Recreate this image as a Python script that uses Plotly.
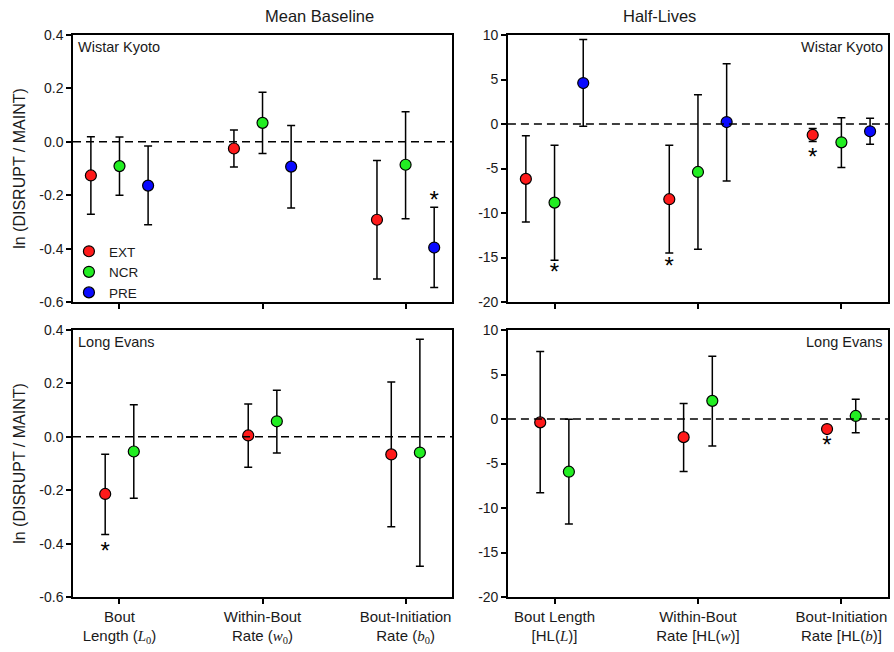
import plotly.graph_objects as go
from plotly.subplots import make_subplots

# ---------------- data ----------------
categories = [1, 2, 3]
series_names = ["EXT", "NCR", "PRE"]
series_colors = ["#ff1a1a", "#22ee22", "#0a0aff"]

# Top-left: Mean Baseline, Wistar Kyoto
wk_base_ext = [-0.126, -0.025, -0.292]
wk_base_ext_hi = [0.019, 0.044, -0.070]
wk_base_ext_lo = [-0.271, -0.094, -0.514]
wk_base_ncr = [-0.091, 0.071, -0.086]
wk_base_ncr_hi = [0.018, 0.186, 0.113]
wk_base_ncr_lo = [-0.200, -0.044, -0.288]
wk_base_pre = [-0.164, -0.093, -0.396]
wk_base_pre_hi = [-0.016, 0.061, -0.245]
wk_base_pre_lo = [-0.311, -0.248, -0.546]

# Top-right: Half-Lives, Wistar Kyoto
wk_hl_ext = [-6.17, -8.45, -1.23]
wk_hl_ext_hi = [-1.31, -2.39, -0.50]
wk_hl_ext_lo = [-11.0, -14.5, -1.98]
wk_hl_ncr = [-8.83, -5.39, -2.06]
wk_hl_ncr_hi = [-2.39, 3.29, 0.71]
wk_hl_ncr_lo = [-15.3, -14.07, -4.90]
wk_hl_pre = [4.60, 0.22, -0.82]
wk_hl_pre_hi = [9.50, 6.77, 0.64]
wk_hl_pre_lo = [-0.26, -6.40, -2.28]

# Bottom-left: Mean Baseline, Long Evans
le_base_ext = [-0.214, 0.005, -0.066]
le_base_ext_hi = [-0.065, 0.123, 0.205]
le_base_ext_lo = [-0.366, -0.114, -0.337]
le_base_ncr = [-0.055, 0.058, -0.059]
le_base_ncr_hi = [0.120, 0.174, 0.365]
le_base_ncr_lo = [-0.230, -0.061, -0.485]

# Bottom-right: Half-Lives, Long Evans
le_hl_ext = [-0.38, -2.04, -1.13]
le_hl_ext_hi = [7.58, 1.74, -1.13]
le_hl_ext_lo = [-8.30, -5.89, -1.13]
le_hl_ncr = [-5.92, 2.04, 0.34]
le_hl_ncr_hi = [-0.04, 7.06, 2.23]
le_hl_ncr_lo = [-11.80, -3.02, -1.55]

# significance markers: (x, y) in data units per panel
wk_base_sig_x = [3.2]
wk_base_sig_y = [-0.225]
wk_hl_sig_x = [1.0, 1.8, 2.8]
wk_hl_sig_y = [-16.9, -16.2, -3.9]
le_base_sig_x = [0.9]
le_base_sig_y = [-0.435]
le_hl_sig_x = [2.9]
le_hl_sig_y = [-3.2]

base_yticks = [-0.6, -0.4, -0.2, 0.0, 0.2, 0.4]
base_yticklabels = ["-0.6", "-0.4", "-0.2", "0.0", "0.2", "0.4"]
hl_yticks = [-20, -15, -10, -5, 0, 5, 10]
hl_yticklabels = ["-20", "-15", "-10", "-5", "0", "5", "10"]

base_ticklabels = [
    "Bout<br>Length (<span style='font-family:Liberation Serif'><i>L</i><sub>0</sub></span>)",
    "Within-Bout<br>Rate (<span style='font-family:Liberation Serif'><i>w</i><sub>0</sub></span>)",
    "Bout-Initiation<br>Rate (<span style='font-family:Liberation Serif'><i>b</i><sub>0</sub></span>)",
]
hl_ticklabels = [
    "Bout Length<br>[HL(<span style='font-family:Liberation Serif'><i>L</i></span>)]",
    "Within-Bout<br>Rate [HL(<span style='font-family:Liberation Serif'><i>w</i></span>)]",
    "Bout-Initiation<br>Rate [HL(<span style='font-family:Liberation Serif'><i>b</i></span>)]",
]

FONT = "Arial, Liberation Sans, sans-serif"
TXT = "#1a1a1a"

fig = make_subplots(rows=2, cols=2, horizontal_spacing=0.07, vertical_spacing=0.05)

W, H = 894, 652
ml, mr, mt, mb = 73, 4, 35, 55
pw = W - ml - mr
ph = H - mt - mb
xd_left = [0, (453 - ml) / pw]
xd_right = [(509 - ml) / pw, 1.0]
yd_top = [(H - mb - 302) / ph, 1.0]
yd_bot = [0, (H - mb - 330) / ph]


def add_series(row, col, offsets, means, his, los, show_legend):
    for i, (off, m, hi, lo) in enumerate(zip(offsets, means, his, los)):
        x = [c + off for c in categories]
        up = [h - v for h, v in zip(hi, m)]
        dn = [v - l for v, l in zip(m, lo)]
        fig.add_trace(
            go.Scatter(
                x=x, y=m, mode="markers", name=series_names[i],
                legendgroup=series_names[i], showlegend=show_legend,
                marker=dict(size=11, color=series_colors[i],
                            line=dict(color="black", width=1.2)),
                error_y=dict(type="data", symmetric=False, array=up,
                             arrayminus=dn, color="black", thickness=1.5,
                             width=4),
            ),
            row=row, col=col,
        )


add_series(1, 1, [-0.2, 0.0, 0.2],
           [wk_base_ext, wk_base_ncr, wk_base_pre],
           [wk_base_ext_hi, wk_base_ncr_hi, wk_base_pre_hi],
           [wk_base_ext_lo, wk_base_ncr_lo, wk_base_pre_lo], True)
add_series(1, 2, [-0.2, 0.0, 0.2],
           [wk_hl_ext, wk_hl_ncr, wk_hl_pre],
           [wk_hl_ext_hi, wk_hl_ncr_hi, wk_hl_pre_hi],
           [wk_hl_ext_lo, wk_hl_ncr_lo, wk_hl_pre_lo], False)
add_series(2, 1, [-0.1, 0.1],
           [le_base_ext, le_base_ncr],
           [le_base_ext_hi, le_base_ncr_hi],
           [le_base_ext_lo, le_base_ncr_lo], False)
add_series(2, 2, [-0.1, 0.1],
           [le_hl_ext, le_hl_ncr],
           [le_hl_ext_hi, le_hl_ncr_hi],
           [le_hl_ext_lo, le_hl_ncr_lo], False)

for (r, c, sx, sy) in [(1, 1, wk_base_sig_x, wk_base_sig_y),
                       (1, 2, wk_hl_sig_x, wk_hl_sig_y),
                       (2, 1, le_base_sig_x, le_base_sig_y),
                       (2, 2, le_hl_sig_x, le_hl_sig_y)]:
    fig.add_trace(go.Scatter(x=sx, y=sy, mode="text", text=["*"] * len(sx),
                             textfont=dict(size=24, color="black", family=FONT),
                             showlegend=False, hoverinfo="skip"),
                  row=r, col=c)

# zero reference lines
for r in (1, 2):
    for c in (1, 2):
        fig.add_hline(y=0, line=dict(color="black", width=1.6, dash="8px,5px"),
                      row=r, col=c)

axis_common = dict(showline=True, linecolor="black", linewidth=1.5,
                   mirror=True, ticks="outside", ticklen=5, tickwidth=1.5,
                   tickcolor="black", showgrid=False, zeroline=False,
                   tickfont=dict(family=FONT, size=14, color=TXT))

x_range = [0.675, 3.325]
fig.update_xaxes(axis_common)
fig.update_yaxes(axis_common)
fig.update_xaxes(range=x_range, tickvals=categories,
                 tickfont=dict(family=FONT, size=15, color=TXT))
fig.update_xaxes(showticklabels=False, row=1)
fig.update_xaxes(ticktext=base_ticklabels, row=2, col=1)
fig.update_xaxes(ticktext=hl_ticklabels, row=2, col=2)

fig.update_xaxes(domain=xd_left, col=1)
fig.update_xaxes(domain=xd_right, col=2)
fig.update_yaxes(domain=yd_top, row=1)
fig.update_yaxes(domain=yd_bot, row=2)

fig.update_yaxes(range=[-0.6, 0.4], tickvals=base_yticks,
                 ticktext=base_yticklabels, col=1)
fig.update_yaxes(range=[-20, 10], tickvals=hl_yticks,
                 ticktext=hl_yticklabels, col=2)
for r in (1, 2):
    fig.update_yaxes(title=dict(text="ln (DISRUPT / MAINT)", standoff=10,
                                font=dict(family=FONT, size=16, color=TXT)),
                     row=r, col=1)

annos = [
    dict(text="Mean Baseline", x=(xd_left[0] + xd_left[1]) / 2, y=1.0,
         xref="paper", yref="paper", yanchor="bottom", yshift=8,
         showarrow=False, font=dict(family=FONT, size=16.5, color=TXT)),
    dict(text="Half-Lives", x=(xd_right[0] + xd_right[1]) / 2, y=1.0,
         xref="paper", yref="paper", yanchor="bottom", yshift=8,
         showarrow=False, font=dict(family=FONT, size=16.5, color=TXT)),
    dict(text="Wistar Kyoto", x=0, y=1, xref="x domain", yref="y domain",
         xanchor="left", yanchor="top", xshift=3, yshift=-2,
         showarrow=False, font=dict(family=FONT, size=14.5, color=TXT)),
    dict(text="Wistar Kyoto", x=1, y=1, xref="x2 domain", yref="y2 domain",
         xanchor="right", yanchor="top", xshift=-3, yshift=-2,
         showarrow=False, font=dict(family=FONT, size=14.5, color=TXT)),
    dict(text="Long Evans", x=0, y=1, xref="x3 domain", yref="y3 domain",
         xanchor="left", yanchor="top", xshift=3, yshift=-2,
         showarrow=False, font=dict(family=FONT, size=14.5, color=TXT)),
    dict(text="Long Evans", x=1, y=1, xref="x4 domain", yref="y4 domain",
         xanchor="right", yanchor="top", xshift=-3, yshift=-2,
         showarrow=False, font=dict(family=FONT, size=14.5, color=TXT)),
]

fig.update_layout(
    width=W, height=H,
    margin=dict(l=ml, r=mr, t=mt, b=mb),
    paper_bgcolor="white", plot_bgcolor="white",
    font=dict(family=FONT, color=TXT),
    annotations=annos,
    legend=dict(x=-0.005, y=(H - mb - 236) / ph, xanchor="left", yanchor="top",
                bgcolor="rgba(0,0,0,0)", font=dict(family=FONT, size=13.5, color=TXT),
                tracegroupgap=0, itemwidth=30),
)

fig.write_html(
    "out.html",
    config={"displayModeBar": False},
    post_script="document.body.style.margin='0';document.body.style.overflow='hidden';",
)
